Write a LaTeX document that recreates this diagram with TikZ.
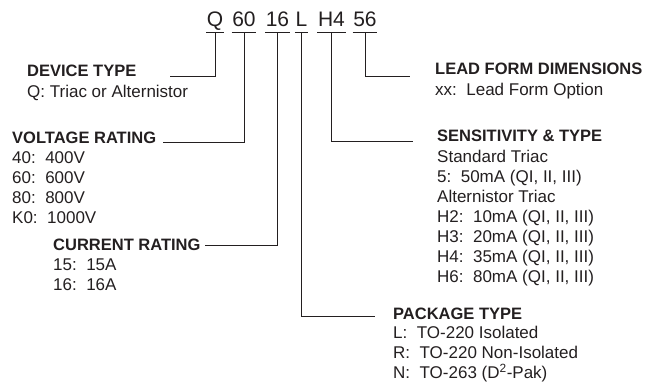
\documentclass[tikz,border=0pt]{standalone}
\usepackage{fontspec}
\setmainfont{Liberation Sans}
\definecolor{ink}{HTML}{231F20}

\begin{document}
\begin{tikzpicture}[x=1pt, y=-1pt, color=ink,
    code/.style={font=\fontsize{21}{24}\selectfont, anchor=base, inner xsep=0.5pt, inner ysep=5pt, text depth=0pt},
    hd/.style={font=\fontsize{16.5}{20}\selectfont\bfseries, anchor=base west, inner sep=0pt},
    opt/.style={font=\fontsize{17}{20}\selectfont, anchor=north west, inner sep=0pt, align=left},
    wire/.style={draw=ink, line width=0.8pt}]
    \useasboundingbox (0,0) rectangle (646,387);

    % part number
    \node[code] (q) at (215,27) {Q};
    \node[code] (v) at (244,27) {60};
    \node[code] (c) at (277.5,27) {16};
    \node[code] (p) at (301.5,27) {L};
    \node[code] (s) at (331.5,27) {H4};
    \node[code] (f) at (365,27) {56};
    \draw[wire] (q.south west) -- (q.south east);
    \draw[wire] (v.south west) -- (v.south east);
    \draw[wire] (c.south west) -- (c.south east);
    \draw[wire] (p.south west) -- (p.south east);
    \draw[wire] (s.south west) -- (s.south east);
    \draw[wire] (f.south west) -- (f.south east);

    % left side
    \node[hd] (devtype) at (27,77) {DEVICE TYPE};
    \node[opt] (devtypeopt) at (27,84.5) {Q:\ Triac or Alternistor};
    \node[hd] (volt) at (12,144) {VOLTAGE RATING};
    \node[opt] (voltopt) at (12,151.5) {40:\ \ 400V\\60:\ \ 600V\\80:\ \ 800V\\K0:\ \ 1000V};
    \node[hd] (curr) at (53,251) {CURRENT RATING};
    \node[opt] (curropt) at (53,258.5) {15:\ \ 15A\\16:\ \ 16A};

    % right side
    \node[hd] (lead) at (435,75) {LEAD FORM DIMENSIONS};
    \node[opt] (leadopt) at (435,82.5) {xx:\ \ Lead Form Option};
    \node[hd] (sens) at (437,142) {SENSITIVITY \& TYPE};
    \node[opt] (sensopt) at (437,149.5) {Standard Triac\\5:\ \ 50mA (QI, II, III)\\Alternistor Triac\\H2:\ \ 10mA (QI, II, III)\\H3:\ \ 20mA (QI, II, III)\\H4:\ \ 35mA (QI, II, III)\\H6:\ \ 80mA (QI, II, III)};
    \node[hd] (pkg) at (393,320) {PACKAGE TYPE};
    \node[opt] (pkgopt) at (393,326) {L:\ \ TO-220 Isolated\\R:\ \ TO-220 Non-Isolated\\N:\ \ TO-263 (D\textsuperscript{2}-Pak)};

    % leader lines
    \coordinate (qend) at (170,76);
    \coordinate (vend) at (163,142);
    \coordinate (cend) at (205,245);
    \coordinate (pend) at (375,316);
    \coordinate (send) at (413,141);
    \coordinate (fend) at (410,76);
    \draw[wire] (q.south) |- (qend);
    \draw[wire] (v.south) |- (vend);
    \draw[wire] (c.south) |- (cend);
    \draw[wire] (p.south) |- (pend);
    \draw[wire] (s.south) |- (send);
    \draw[wire] (f.south) |- (fend);
\end{tikzpicture}
\end{document}
